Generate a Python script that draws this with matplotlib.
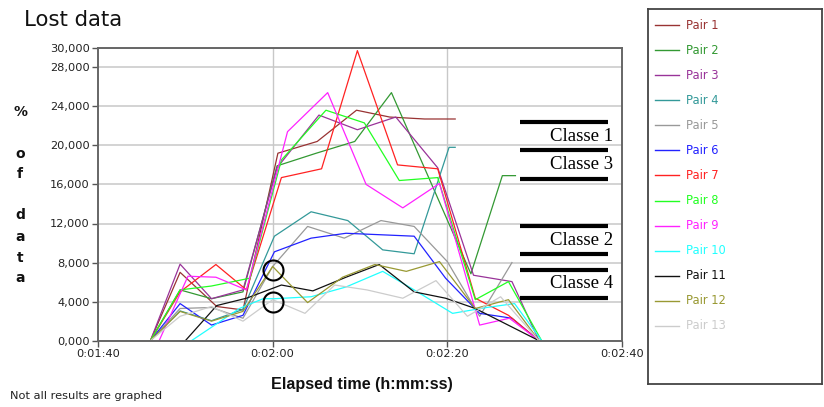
import matplotlib
matplotlib.use("Agg")
import matplotlib.pyplot as plt
from matplotlib.ticker import FixedLocator

# ---------------- data ----------------
labels = ["Pair 1", "Pair 2", "Pair 3", "Pair 4", "Pair 5", "Pair 6", "Pair 7",
          "Pair 8", "Pair 9", "Pair 10", "Pair 11", "Pair 12", "Pair 13"]
colors = ["#993333", "#339933", "#993399", "#339999", "#999999", "#2222FF", "#FF2222",
          "#22FF22", "#FF22FF", "#22FFFF", "#111111", "#999933", "#CCCCCC"]

# elapsed time in seconds, value of lost data
t1 = [106, 109.4, 113.6, 116.6, 120.6, 125.1, 129.6, 133.4, 137.4, 140.9]
v1 = [0, 7000, 3500, 3150, 19200, 20400, 23600, 22900, 22700, 22700]
t2 = [106, 109.4, 113, 116.6, 120.5, 125, 129.4, 133.6, 142.7, 146.3, 147.8]
v2 = [0, 5200, 4300, 5000, 17900, 19200, 20400, 25400, 6850, 16900, 16900]
t3 = [106, 109.4, 113, 116.6, 120.5, 125.3, 129.7, 134.1, 138.9, 143.0, 147.4, 150.5]
v3 = [0, 7840, 4300, 5200, 17700, 23100, 21600, 22900, 17700, 6700, 6050, 0]
t4 = [106, 109.4, 113, 116.6, 120.2, 124.4, 128.6, 132.6, 136.2, 140.2, 140.9]
v4 = [0, 3050, 2050, 3200, 10700, 13200, 12300, 9300, 8900, 19800, 19800]
t5 = [106, 109.4, 113, 116.6, 120, 124, 128.2, 132.4, 136.2, 140, 143.7, 147.4]
v5 = [0, 3300, 3400, 2300, 7600, 11700, 10500, 12300, 11700, 8100, 2500, 8000]
t6 = [106, 109.4, 113, 116.6, 120.2, 124.4, 128.4, 136.2, 139.8, 143.7, 147.4, 150.5]
v6 = [0, 3800, 1600, 2600, 9100, 10500, 11000, 10700, 6400, 2800, 2300, 0]
t7 = [106, 109.4, 113.5, 117, 121, 125.6, 129.7, 134.3, 138.9, 143.2, 147.0, 150.5]
v7 = [0, 5000, 7800, 5200, 16700, 17600, 29700, 18000, 17600, 4350, 2600, 0]
t8 = [106, 109.4, 113, 117.4, 121, 126.1, 130.5, 134.5, 138.9, 143.2, 147, 150.8]
v8 = [0, 5200, 5600, 6400, 18500, 23600, 22300, 16400, 16700, 4200, 6050, 0]
t9 = [107, 110.3, 113.5, 117, 121.7, 126.3, 130.7, 134.9, 139.1, 143.7, 147.1, 150.5]
v9 = [0, 6600, 6500, 5200, 21400, 25400, 16000, 13600, 16100, 1600, 2300, 0]
t10 = [110.7, 116.2, 118.9, 120.2, 124.4, 128.4, 132.6, 136.2, 140.6, 144.5, 147.7, 150.8]
v10 = [0, 3300, 4300, 4300, 4500, 5500, 7100, 5200, 2800, 3400, 3800, 0]
t11 = [110, 113.6, 117, 121, 124.6, 128.4, 132.2, 136.2, 139.8, 143.2, 150.5]
v11 = [0, 3600, 4350, 5700, 5100, 6500, 7800, 5000, 4350, 3300, 0]
t12 = [106, 109.4, 113, 116.6, 120, 124, 128, 131.7, 135.3, 139.1, 143.2, 147, 150.5]
v12 = [0, 3000, 2000, 3000, 7600, 3900, 6500, 7800, 7100, 8100, 3300, 4200, 0]
t13 = [106, 109.4, 113, 116.6, 120, 123.7, 127.1, 130.8, 134.9, 138.7, 142.3, 146.1, 150.5]
v13 = [0, 2500, 3500, 2000, 4200, 2800, 5700, 5200, 4350, 6150, 2500, 4500, 0]

times = [t1, t2, t3, t4, t5, t6, t7, t8, t9, t10, t11, t12, t13]
values = [v1, v2, v3, v4, v5, v6, v7, v8, v9, v10, v11, v12, v13]

y_ticks = [0, 4000, 8000, 12000, 16000, 20000, 24000, 28000, 30000]
y_ticklabels = ["0,000", "4,000", "8,000", "12,000", "16,000", "20,000", "24,000", "28,000", "30,000"]
x_ticks = [100, 120, 140, 160]
x_ticklabels = ["0:01:40", "0:02:00", "0:02:20", "0:02:40"]

class_levels = [22360, 19490, 16580, 11730, 8860, 7260, 4350]
class_names = ["Classe 1", "Classe 3", "Classe 2", "Classe 4"]
class_label_y = [20900, 18000, 10300, 5900]
circle_t = [120, 120]
circle_v = [7250, 3970]

# ---------------- figure ----------------
W, H = 824, 407
fig = plt.figure(figsize=(W / 100, H / 100), dpi=100)
fig.patch.set_facecolor("white")

ax_l, ax_r, ax_t, ax_b = 98, 622, 47.7, 340.7
ax = fig.add_axes([ax_l / W, 1 - ax_b / H, (ax_r - ax_l) / W, (ax_b - ax_t) / H])
ax.set_xlim(100, 160)
ax.set_ylim(0, 30000)

# grid
for yv in y_ticks:
    ax.axhline(yv, color="#c8c8c8", lw=1.1, zorder=0)
for xv in x_ticks[1:3]:
    ax.axvline(xv, color="#c8c8c8", lw=1.0, zorder=0)

for t, v, c in zip(times, values, colors):
    ax.plot(t, v, color=c, lw=0.9, zorder=2)

# annotations
ax.hlines(class_levels, 148.3, 158.4, colors="black", lw=3.0, zorder=3)
for name, yv in zip(class_names, class_label_y):
    ax.text(159.0, yv, name, ha="right", va="center", fontsize=13.5,
            family="Liberation Serif", color="black", zorder=4)
ax.plot(circle_t, circle_v, linestyle="none", marker="o", markersize=14.4,
        markerfacecolor="none", markeredgecolor="black", markeredgewidth=1.5, zorder=4)

ax.yaxis.set_major_locator(FixedLocator(y_ticks))
ax.set_yticklabels(y_ticklabels)
ax.xaxis.set_major_locator(FixedLocator(x_ticks))
ax.set_xticklabels(x_ticklabels)
ax.tick_params(axis="both", direction="out", length=4, width=1.0, color="#555555",
               labelsize=8.2, labelcolor="#222222", pad=2)
for s in ax.spines.values():
    s.set_color("#666666")
    s.set_linewidth(1.4)

# title and axis labels
fig.text(24 / W, 1 - 26 / H, "Lost data", fontsize=15.3, color="#111111", va="baseline")
for ch, yp in zip(["%", "o", "f", "d", "a", "t", "a"], [112, 154, 174, 215, 237, 258, 278]):
    fig.text(20 / W, 1 - yp / H, ch, fontsize=10, fontweight="bold", ha="center",
             va="center", color="#111111")
fig.text(362 / W, 1 - 384 / H, "Elapsed time (h:mm:ss)", fontsize=11.6, fontweight="bold",
         family="Liberation Sans", ha="center", va="center", color="#111111")
fig.text(10 / W, 1 - 396 / H, "Not all results are graphed", fontsize=8.2,
         ha="left", va="center", color="#222222")

# legend box
lx0, lx1, ly0, ly1 = 648.3, 822, 9.3, 384.3
lax = fig.add_axes([lx0 / W, 1 - ly1 / H, (lx1 - lx0) / W, (ly1 - ly0) / H])
lax.set_xlim(0, lx1 - lx0)
lax.set_ylim(ly1 - ly0, 0)
lax.set_xticks([])
lax.set_yticks([])
for s in lax.spines.values():
    s.set_color("#444444")
    s.set_linewidth(1.3)
for i, (lab, c) in enumerate(zip(labels, colors)):
    yy = 25.3 + 25.03 * i - ly0
    lax.plot([655 - lx0, 679 - lx0], [yy, yy], color=c, lw=1.0)
    lax.text(686.5 - lx0, yy, lab, color=c, fontsize=8.3, va="center", ha="left")

fig.savefig("out.png", dpi=100)
